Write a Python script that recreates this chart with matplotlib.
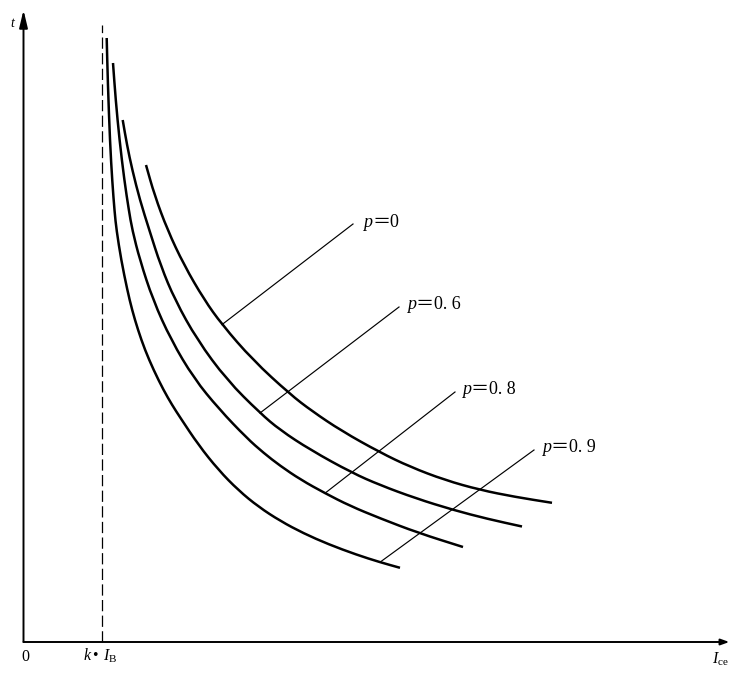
import matplotlib
matplotlib.use("Agg")
import matplotlib.pyplot as plt
from matplotlib.path import Path
from matplotlib.patches import PathPatch

plt.rcParams['font.family'] = ['Liberation Serif', 'Noto Sans CJK SC', 'DejaVu Sans']
plt.rcParams['mathtext.fontset'] = 'custom'
plt.rcParams['mathtext.rm'] = 'Liberation Serif'
plt.rcParams['mathtext.it'] = 'Liberation Serif:italic'

# ---------------- data (arbitrary units, origin at axis corner) ----------------
asymptote_x = 78.2          # k * I_B
asymptote_top = 617

p_values = ['0', '0. 6', '0. 8', '0. 9']

x_p0 = [122.5, 131, 144, 160.5, 180.5, 198.5, 229.2, 266.5, 288.5, 318.2, 356.5,
        386.5, 421.5, 456.5, 491.5, 528.5]
y_p0 = [477, 447, 412, 377, 342.6, 317.4, 282.1, 247.8, 230.9, 211, 189.6,
        175.2, 161.9, 152.1, 145.1, 139.2]

x_p06 = [99.2, 103.5, 108.8, 116.4, 125.8, 137.3, 151.5, 173.8, 203.4, 236.5, 256.5,
         287.1, 328.5, 356.5, 392.2, 429.5, 464, 498.5]
y_p06 = [522, 497, 472, 442, 412, 376, 342, 302, 262, 229, 212,
         192, 169.2, 156.9, 143.7, 132.1, 123.1, 115.5]

x_p08 = [89.5, 92.2, 96, 100.8, 105.3, 108.8, 116.4, 129.5, 147.6, 170.5, 195.5, 223.2,
         240.2, 256.5, 277.2, 301.5, 326.3, 356.5, 394.5, 439.5]
y_p08 = [579, 542, 502, 462, 432, 412, 382, 342, 302, 263.5, 233, 204,
         189, 176.3, 162.3, 148.8, 136.2, 123.7, 109.2, 95]

x_p09 = [83.2, 84.3, 86.5, 88.8, 91.1, 93, 97.7, 103.8, 108.6, 114.5, 121.5, 130.1, 140,
         148.6, 157, 175, 195, 215, 235, 257, 280, 305, 333, 356.5, 376.5]
y_p09 = [604, 560, 500, 460, 430, 412, 382, 352, 332, 312, 292, 272, 252,
         237, 224, 197, 172, 151.6, 135.2, 120.9, 108.7, 97.7, 87.3, 79.8, 74.2]

# leader lines: start on curve -> end near label; label anchor (left, baseline)
leader_x0 = [198.5, 236.5, 301.5, 356.5]
leader_y0 = [317.4, 229, 148.8, 79.8]
leader_x1 = [329.5, 375.5, 431.5, 510.5]
leader_y1 = [418, 335, 250, 192]
label_x = [339.5, 383.2, 438.5, 518.5]
label_y = [415.3, 333, 247.7, 190]


def smooth_path(xs, ys):
    """Quadratic-Bezier path through the read points (midpoint scheme)."""
    pts = list(zip(xs, ys))
    verts = [pts[0]]
    codes = [Path.MOVETO]
    mid = lambda a, b: ((a[0] + b[0]) / 2, (a[1] + b[1]) / 2)
    verts.append(mid(pts[0], pts[1]))
    codes.append(Path.LINETO)
    for i in range(1, len(pts) - 1):
        verts += [pts[i], mid(pts[i], pts[i + 1])]
        codes += [Path.CURVE3, Path.CURVE3]
    verts.append(pts[-1])
    codes.append(Path.LINETO)
    return Path(verts, codes)


# ---------------- figure ----------------
fig = plt.figure(figsize=(7.3, 6.73), dpi=100)
ax = fig.add_axes([0, 0, 1, 1])
ax.set_xlim(-23.5, 706.5)
ax.set_ylim(-31, 642)
ax.axis('off')

# axes with arrows
ax.annotate('', xy=(705.8, 0), xytext=(0, 0),
            arrowprops=dict(arrowstyle='-|>,head_length=0.5,head_width=0.18',
                            lw=1.4, color='black', shrinkA=0, shrinkB=0))
ax.annotate('', xy=(0, 632), xytext=(0, 0),
            arrowprops=dict(arrowstyle='-|>,head_length=1.05,head_width=0.25',
                            lw=1.4, color='black', shrinkA=0, shrinkB=0))

# asymptote
ax.plot([asymptote_x, asymptote_x], [0, asymptote_top], color='black', lw=0.9,
        dashes=(9, 3.5))

# curves
for xs, ys in [(x_p0, y_p0), (x_p06, y_p06), (x_p08, y_p08), (x_p09, y_p09)]:
    ax.add_patch(PathPatch(smooth_path(xs, ys), facecolor='none', edgecolor='black',
                           lw=1.8, capstyle='butt', joinstyle='round'))

# leaders and labels
for i, pv in enumerate(p_values):
    ax.plot([leader_x0[i], leader_x1[i]], [leader_y0[i], leader_y1[i]],
            color='black', lw=0.85)
    ax.text(label_x[i], label_y[i], 'p', style='italic', fontsize=13,
            ha='left', va='baseline')
    ax.annotate('\uff1d' + pv, xy=(label_x[i], label_y[i]), xytext=(6.6, 0),
                textcoords='offset points', fontsize=13, ha='left', va='baseline',
                family=['Liberation Serif', 'Noto Sans CJK SC'])

# axis texts
ax.text(-13.5, 615, 't', style='italic', fontsize=10, ha='left', va='baseline')
ax.text(1.5, -18.7, '0', fontsize=11.5, ha='center', va='baseline')
ax.text(59.5, -18.7, '$k\\,$\u2022$\\ \\,I_{\\mathrm{B}}$', fontsize=11.5,
        ha='left', va='baseline')
ax.text(689, -22, r'$I_{\mathrm{ce}}$', fontsize=11.5, ha='left', va='baseline')

fig.savefig('out.png', dpi=100)
